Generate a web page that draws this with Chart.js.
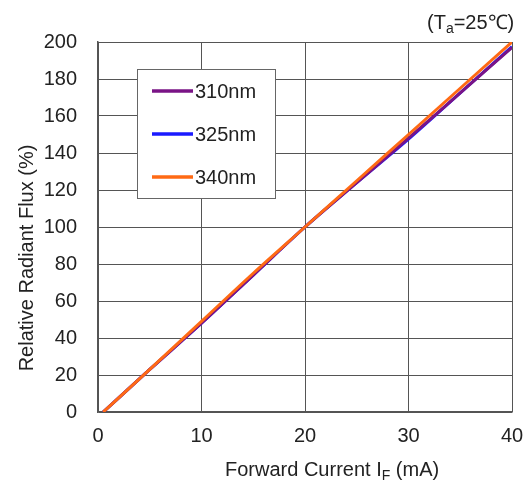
<!DOCTYPE html>
<html lang="en">
<head>
  <meta charset="UTF-8" />
  <title>Relative Radiant Flux vs Forward Current</title>
  <script src="https://cdn.jsdelivr.net/npm/chart.js"></script>
  <style>
    body { margin: 0; background: #fff; }
    #wrap { width: 530px; height: 483px; }
  </style>
</head>
<body>
  <div id="wrap"><canvas id="fluxChart"></canvas></div>
  <script>
    // values
    const currents = [0.5, 5, 10, 15, 20, 25, 30, 35, 40];
    const flux310 = [0, 23, 48, 74, 100, 124, 148, 172.5, 197];
    const flux325 = [0, 23, 48, 74, 100, 124, 147.5, 172.5, 197.5];
    const flux340 = [0, 23, 49, 75, 100, 125, 150, 175, 200];
    const seriesNames = ['310nm', '325nm', '340nm'];
    const seriesColors = ['#7a1486', '#1a1aff', '#ff6a14'];
    const xTicks = [0, 10, 20, 30, 40];
    const yTicks = [0, 20, 40, 60, 80, 100, 120, 140, 160, 180, 200];

    const FONT = '"Liberation Sans", Arial, sans-serif';
    const textColor = '#222';

    function pts(ys) {
      return currents.map((x, i) => ({ x: x, y: ys[i] }));
    }

    const drawOrder = [2, 3, 1]; // orange on top
    const datasets = [flux310, flux325, flux340].map((ys, i) => ({
      label: seriesNames[i],
      data: pts(ys),
      borderColor: seriesColors[i],
      backgroundColor: seriesColors[i],
      borderWidth: 3,
      pointRadius: 0,
      cubicInterpolationMode: 'monotone',
      order: drawOrder[i]
    }));

    // extra text + legend box drawn on the canvas
    const decorations = {
      id: 'decorations',
      afterDraw(chart) {
        const ctx = chart.ctx;
        ctx.save();
        ctx.fillStyle = textColor;
        ctx.textBaseline = 'alphabetic';

        // (Ta=25℃)
        ctx.font = '20px ' + FONT;
        ctx.textAlign = 'left';
        let x = 427, y = 29;
        ctx.fillText('(T', x, y);
        x += ctx.measureText('(T').width;
        ctx.font = '14px ' + FONT;
        ctx.fillText('a', x, y + 4);
        x += ctx.measureText('a').width;
        ctx.font = '20px ' + FONT;
        ctx.fillText('=25℃)', x, y);

        // x axis title with subscript
        const p1 = 'Forward Current I', p2 = 'F', p3 = ' (mA)';
        ctx.font = '20px ' + FONT;
        const w1 = ctx.measureText(p1).width;
        ctx.font = '14px ' + FONT;
        const w2 = ctx.measureText(p2).width;
        x = 225;
        y = 476;
        ctx.font = '20px ' + FONT;
        ctx.fillText(p1, x, y);
        ctx.font = '14px ' + FONT;
        ctx.fillText(p2, x + w1, y + 4);
        ctx.font = '20px ' + FONT;
        ctx.fillText(p3, x + w1 + w2, y);

        // y axis title
        ctx.save();
        ctx.translate(33, 258);
        ctx.rotate(-Math.PI / 2);
        ctx.textAlign = 'center';
        ctx.fillText('Relative Radiant Flux (%)', 0, 0);
        ctx.restore();

        // legend box
        const bx = 137, by = 69, bw = 138, bh = 129;
        ctx.fillStyle = '#fff';
        ctx.fillRect(bx, by, bw, bh);
        ctx.strokeStyle = '#666';
        ctx.lineWidth = 1;
        ctx.strokeRect(bx + 0.5, by + 0.5, bw, bh);
        chart.data.datasets.forEach((ds, i) => {
          const ly = 91 + i * 43;
          ctx.strokeStyle = ds.borderColor;
          ctx.lineWidth = 3.5;
          ctx.beginPath();
          ctx.moveTo(152, ly);
          ctx.lineTo(193, ly);
          ctx.stroke();
          ctx.fillStyle = textColor;
          ctx.font = '20px ' + FONT;
          ctx.textAlign = 'left';
          ctx.textBaseline = 'middle';
          ctx.fillText(ds.label, 195, ly + 1);
        });
        ctx.restore();
      }
    };

    new Chart(document.getElementById('fluxChart'), {
      type: 'line',
      data: { datasets: datasets },
      options: {
        responsive: true,
        maintainAspectRatio: false,
        animation: false,
        layout: { padding: { top: 42, right: 18, left: 0, bottom: 0 } },
        plugins: {
          legend: { display: false },
          tooltip: { enabled: false }
        },
        scales: {
          x: {
            type: 'linear',
            min: 0,
            max: 40,
            afterBuildTicks: s => { s.ticks = xTicks.map(v => ({ value: v })); },
            afterFit: s => { s.height = 71; s.paddingLeft = 0; s.paddingRight = 0; },
            grid: { color: '#555', lineWidth: 1, drawTicks: false },
            border: { color: '#555', width: 1.5 },
            ticks: {
              color: textColor,
              font: { size: 20, family: FONT },
              padding: 12
            }
          },
          y: {
            min: 0,
            max: 200,
            afterBuildTicks: s => { s.ticks = yTicks.map(v => ({ value: v })); },
            afterFit: s => { s.width = 98; s.paddingTop = 0; s.paddingBottom = 0; },
            grid: { color: '#555', lineWidth: 1, drawTicks: false },
            border: { color: '#555', width: 1.5 },
            ticks: {
              color: textColor,
              font: { size: 20, family: FONT },
              padding: 21
            }
          }
        }
      },
      plugins: [decorations]
    });
  </script>
</body>
</html>
